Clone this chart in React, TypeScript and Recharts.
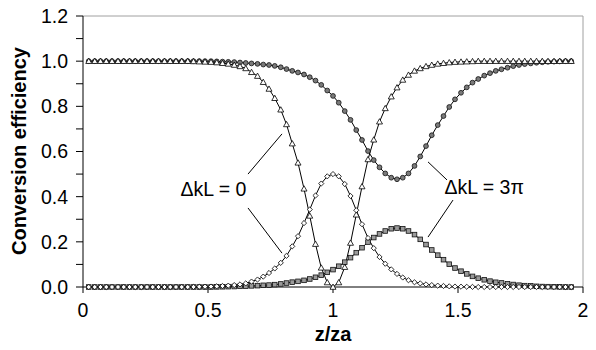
import React from 'react';
import {
  LineChart,
  Line,
  XAxis,
  YAxis,
  ReferenceLine,
  ReferenceDot,
  Customized,
} from 'recharts';

// z/za sample positions
const zValues = [
  0.023, 0.047, 0.070, 0.093, 0.116, 0.140, 0.163, 0.186, 0.209, 0.233, 0.256, 0.279,
  0.302, 0.326, 0.349, 0.372, 0.395, 0.419, 0.442, 0.465, 0.488, 0.512, 0.535, 0.558,
  0.581, 0.605, 0.628, 0.651, 0.674, 0.698, 0.721, 0.744, 0.767, 0.791, 0.814, 0.837,
  0.860, 0.884, 0.907, 0.930, 0.953, 0.977, 1.000, 1.023, 1.047, 1.070, 1.093, 1.116,
  1.140, 1.163, 1.186, 1.209, 1.233, 1.256, 1.279, 1.302, 1.326, 1.349, 1.372, 1.395,
  1.419, 1.442, 1.465, 1.488, 1.512, 1.535, 1.558, 1.581, 1.605, 1.628, 1.651, 1.674,
  1.698, 1.721, 1.744, 1.767, 1.791, 1.814, 1.837, 1.860, 1.884, 1.907, 1.930, 1.953,
];

// ΔkL = 0, fundamental (triangles)
const fundPhase0 = [
  1, 1, 1, 1, 1, 1, 1, 1, 1, 1, 1, 1,
  1, 1, 1, 1, 1, 1, 0.999, 0.998, 0.997, 0.996, 0.994, 0.991,
  0.988, 0.983, 0.977, 0.968, 0.951, 0.934, 0.907, 0.877, 0.836, 0.785, 0.72, 0.635,
  0.55, 0.435, 0.315, 0.19, 0.085, 0.02, 0, 0.02, 0.088, 0.195, 0.32, 0.445,
  0.565, 0.652, 0.732, 0.791, 0.843, 0.883, 0.917, 0.939, 0.957, 0.968, 0.977, 0.983,
  0.988, 0.991, 0.994, 0.996, 0.997, 0.998, 0.999, 1, 1, 1, 1, 1,
  1, 1, 1, 1, 1, 1, 1, 1, 1, 1, 1, 1,
];

// ΔkL = 0, second harmonic (diamonds)
const shPhase0 = [
  0, 0, 0, 0, 0, 0, 0, 0, 0, 0, 0, 0,
  0, 0, 0, 0, 0, 0, 0.0005, 0.001, 0.0015, 0.002, 0.003, 0.0045,
  0.006, 0.0085, 0.0115, 0.016, 0.024, 0.033, 0.046, 0.062, 0.082, 0.107, 0.138, 0.18,
  0.225, 0.283, 0.343, 0.405, 0.458, 0.49, 0.5, 0.49, 0.456, 0.403, 0.34, 0.278,
  0.217, 0.172, 0.133, 0.103, 0.078, 0.058, 0.042, 0.03, 0.021, 0.016, 0.0115, 0.0085,
  0.006, 0.0045, 0.003, 0.002, 0.0015, 0.001, 0.0005, 0, 0, 0, 0, 0,
  0, 0, 0, 0, 0, 0, 0, 0, 0, 0, 0, 0,
];

// ΔkL = 3π, fundamental (circles)
const fundPhase3pi = [
  1, 1, 1, 1, 1, 1, 1, 1, 1, 1, 1, 1,
  1, 1, 1, 1, 1, 1, 1, 1, 1, 1, 0.999, 0.998,
  0.997, 0.996, 0.994, 0.992, 0.99, 0.988, 0.985, 0.983, 0.979, 0.973, 0.965, 0.957,
  0.95, 0.941, 0.929, 0.914, 0.895, 0.87, 0.846, 0.816, 0.779, 0.74, 0.695, 0.651,
  0.602, 0.562, 0.53, 0.503, 0.484, 0.477, 0.484, 0.503, 0.536, 0.578, 0.624, 0.672,
  0.717, 0.757, 0.797, 0.831, 0.86, 0.884, 0.905, 0.921, 0.936, 0.947, 0.957, 0.964,
  0.971, 0.978, 0.983, 0.987, 0.99, 0.993, 0.995, 0.997, 0.998, 0.999, 1, 1,
];

// ΔkL = 3π, second harmonic (squares)
const shPhase3pi = [
  0, 0, 0, 0, 0, 0, 0, 0, 0, 0, 0, 0,
  0, 0, 0, 0, 0, 0, 0, 0, 0, 0, 0.0005, 0.001,
  0.0015, 0.002, 0.003, 0.004, 0.005, 0.006, 0.0075, 0.0085, 0.0105, 0.0135, 0.0175, 0.0215,
  0.025, 0.0295, 0.0355, 0.043, 0.0525, 0.065, 0.077, 0.092, 0.11, 0.13, 0.152, 0.174,
  0.199, 0.219, 0.235, 0.248, 0.258, 0.261, 0.258, 0.248, 0.232, 0.211, 0.188, 0.164,
  0.141, 0.121, 0.101, 0.084, 0.07, 0.058, 0.047, 0.039, 0.032, 0.026, 0.021, 0.018,
  0.014, 0.011, 0.008, 0.006, 0.005, 0.003, 0.002, 0.0015, 0.001, 0.0005, 0, 0,
];

const xTicks = [0, 0.5, 1, 1.5, 2];
const yTicks = [0, 0.1, 0.2, 0.3, 0.4, 0.5, 0.6, 0.7, 0.8, 0.9, 1.0, 1.1, 1.2];

const data = zValues.map((z, i) => ({
  z,
  a: fundPhase0[i],
  b: shPhase0[i],
  c: fundPhase3pi[i],
  d: shPhase3pi[i],
}));

const FONT = 'Arial, "Liberation Sans", sans-serif';

const Triangle = (p: any) => (
  <polygon
    key={`tri-${p.index}`}
    points={`${p.cx},${p.cy - 3} ${p.cx - 3},${p.cy + 2.3} ${p.cx + 3},${p.cy + 2.3}`}
    fill="#fff"
    stroke="#000"
    strokeWidth={0.8}
  />
);

const Diamond = (p: any) => (
  <polygon
    key={`dia-${p.index}`}
    points={`${p.cx},${p.cy - 2.6} ${p.cx + 2.6},${p.cy} ${p.cx},${p.cy + 2.6} ${p.cx - 2.6},${p.cy}`}
    fill="#fff"
    stroke="#000"
    strokeWidth={0.8}
  />
);

const Circle = (p: any) => (
  <circle key={`cir-${p.index}`} cx={p.cx} cy={p.cy} r={2.4} fill="#7a7a7a" stroke="#111" strokeWidth={0.8} />
);

const Square = (p: any) => (
  <rect
    key={`sq-${p.index}`}
    x={p.cx - 2.3}
    y={p.cy - 2.3}
    width={4.6}
    height={4.6}
    fill="#9a9a9a"
    stroke="#111"
    strokeWidth={0.8}
  />
);

const AxisTitles = () => (
  <g fontFamily={FONT} fontWeight="bold" fontSize={20} fill="#000">
    <text x={19} y={151} transform="rotate(-90 19 151)" textAnchor="middle" dominantBaseline="central">
      Conversion efficiency
    </text>
    <text x={333} y={334} textAnchor="middle" dominantBaseline="central">
      z/za
    </text>
  </g>
);

const annoLabel = (value: string) => ({
  value,
  position: 'right' as const,
  offset: 0,
  fill: '#000',
  fontSize: 19.5,
  fontFamily: FONT,
});

export default function App() {
  return (
    <div style={{ position: 'absolute', left: 0, top: 0, background: '#fff' }}>
      <LineChart
        width={596}
        height={350}
        data={data}
        margin={{ top: 16, right: 13, left: 10, bottom: 20 }}
      >
        <ReferenceLine y={1.2} stroke="#a0a0a0" strokeWidth={1} />
        <ReferenceLine x={2} stroke="#a0a0a0" strokeWidth={1} />
        <XAxis
          dataKey="z"
          type="number"
          domain={[0, 2]}
          ticks={xTicks}
          tickFormatter={(v: number) => String(v)}
          height={43}
          tickSize={6}
          tickMargin={10}
          stroke="#000"
          tick={{ fill: '#000', fontSize: 19.5, fontFamily: FONT }}
          allowDataOverflow
        />
        <YAxis
          type="number"
          domain={[0, 1.2]}
          ticks={yTicks}
          interval={0}
          tickFormatter={(v: number) => (Math.round(v * 10) % 2 === 0 ? v.toFixed(1) : '')}
          width={73}
          tickSize={7}
          tickMargin={8}
          stroke="#000"
          tick={{ fill: '#000', fontSize: 19.5, fontFamily: FONT }}
        />
        <Line dataKey="c" stroke="#000" strokeWidth={1} dot={Circle} isAnimationActive={false} />
        <Line dataKey="d" stroke="#000" strokeWidth={1} dot={Square} isAnimationActive={false} />
        <Line dataKey="a" stroke="#000" strokeWidth={1} dot={Triangle} isAnimationActive={false} />
        <Line dataKey="b" stroke="#000" strokeWidth={1} dot={Diamond} isAnimationActive={false} />

        <ReferenceLine segment={[{ x: 0.66, y: 0.5 }, { x: 0.796, y: 0.678 }]} stroke="#000" />
        <ReferenceLine segment={[{ x: 0.66, y: 0.35 }, { x: 0.796, y: 0.15 }]} stroke="#000" />
        <ReferenceLine segment={[{ x: 1.38, y: 0.554 }, { x: 1.456, y: 0.474 }]} stroke="#000" />
        <ReferenceLine segment={[{ x: 1.48, y: 0.385 }, { x: 1.38, y: 0.221 }]} stroke="#000" />
        <ReferenceDot x={0.39} y={0.434} r={0} fill="none" stroke="none" label={annoLabel('ΔkL = 0')} />
        <ReferenceDot x={1.446} y={0.443} r={0} fill="none" stroke="none" label={annoLabel('ΔkL = 3π')} />

        <Customized component={AxisTitles} />
      </LineChart>
    </div>
  );
}
